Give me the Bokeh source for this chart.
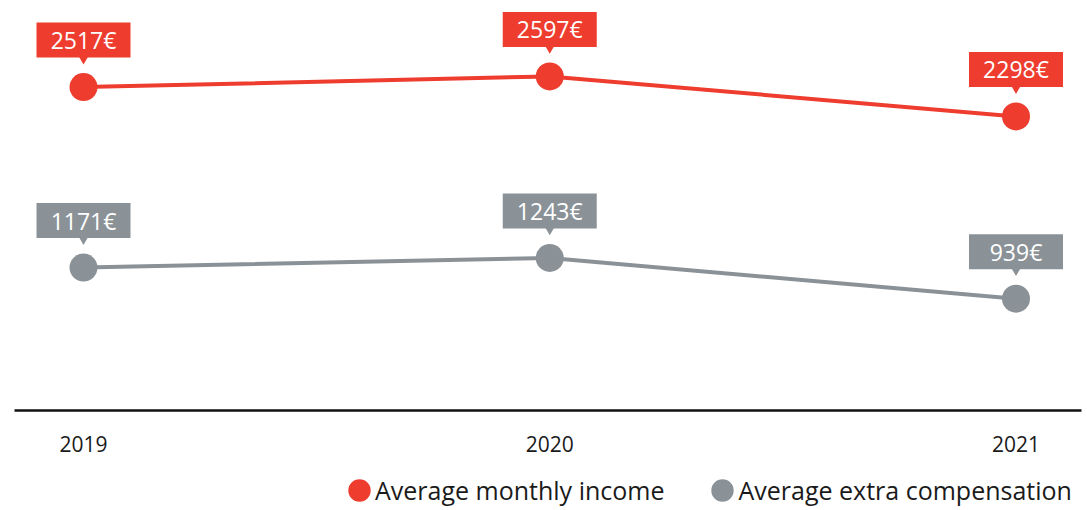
from bokeh.plotting import figure
from bokeh.models import Range1d, Legend, LegendItem, FixedTicker
from bokeh.layouts import column
from bokeh.core.properties import value
from bokeh.embed import file_html
from bokeh.resources import INLINE

# ---- data ----
years = [2019, 2020, 2021]
income = [2517, 2597, 2298]
extra = [1171, 1243, 939]
income_text = ["2517€", "2597€", "2298€"]
extra_text = ["1171€", "1243€", "939€"]
series_names = ["Average monthly income", "Average extra compensation"]

# ---- style ----
RED = "#EE3D2F"
GRAY = "#8A9297"
FONT = "Open Sans"

X_START, X_END = 2018.852, 2021.1405
Y_START, Y_END = 105, 3163
FRAME_H = 410
PX = (Y_END - Y_START) / FRAME_H  # data units per screen pixel

p = figure(width=1087, height=470,
           x_range=Range1d(X_START, X_END), y_range=Range1d(Y_START, Y_END),
           output_backend="svg", toolbar_location=None, y_axis_location=None,
           min_border_left=14, min_border_right=6, min_border_top=0, min_border_bottom=60,
           outline_line_color=None, background_fill_color="white", border_fill_color="white")
p.xgrid.visible = False
p.ygrid.visible = False

ax = p.xaxis[0]
ax.ticker = FixedTicker(ticks=years)
ax.axis_line_width = 2.5
ax.axis_line_color = "#111111"
ax.major_tick_line_color = None
ax.minor_tick_line_color = None
ax.major_tick_out = 0
ax.major_tick_in = 0
ax.minor_tick_out = 0
ax.minor_tick_in = 0
ax.major_label_standoff = 25
ax.major_label_text_font = FONT
ax.major_label_text_font_size = "21px"
ax.major_label_text_color = "#1a1a1a"

# legend strip: a second figure whose frame holds the legend
pl = figure(width=1087, height=40,
            x_range=Range1d(X_START, X_END), y_range=Range1d(0, 1),
            output_backend="svg", toolbar_location=None,
            x_axis_location=None, y_axis_location=None,
            min_border_left=0, min_border_right=0, min_border_top=0, min_border_bottom=0,
            outline_line_color=None, background_fill_color="white", border_fill_color="white")
pl.xgrid.visible = False
pl.ygrid.visible = False

items = []
for vals, texts, color, name in [(income, income_text, RED, series_names[0]),
                                  (extra, extra_text, GRAY, series_names[1])]:
    p.line(years, vals, line_width=4, line_color=color)
    p.ellipse(years, vals, width=28, height=28, width_units="screen", height_units="screen",
              fill_color=color, line_color=None)
    box_y = [v + 47 * PX for v in vals]
    ptr_y = [v + 29.5 * PX for v in vals]
    p.rect(years, box_y, width=94, height=35, width_units="screen", height_units="screen",
           fill_color=color, line_color=None)
    p.scatter(years, ptr_y, marker="inverted_triangle", size=12, fill_color=color, line_color=None)
    p.text(years, box_y, text=texts, text_align="center", text_baseline="middle",
           text_font=value(FONT), text_font_size="23px", text_color="white")
    # same series in the legend strip (outside its visible range) to feed the legend swatch
    swatch = pl.ellipse(years, vals, width=28, height=28, width_units="screen", height_units="screen",
                        fill_color=color, line_color=None)
    items.append(LegendItem(label=name, renderers=[swatch]))

legend = Legend(items=items, orientation="horizontal", location=(331, 3),
                glyph_width=28, glyph_height=28, label_standoff=2, spacing=44,
                padding=0, margin=0, border_line_color=None, background_fill_alpha=0,
                label_text_font=FONT, label_text_font_size="25px", label_text_color="#1a1a1a")
pl.add_layout(legend)

open("out.html", "w").write(file_html(column(p, pl, spacing=0), INLINE))
